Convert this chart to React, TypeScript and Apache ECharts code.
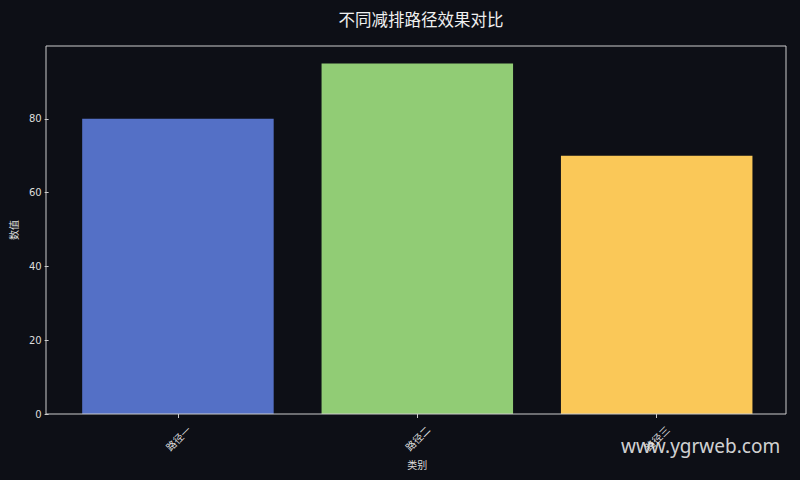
import { useEffect, useRef } from "react";
import * as echarts from "echarts";

const categories = ["路径一", "路径二", "路径三"];
const values = [80, 95, 70];
const barColors = ["#5470c6", "#91cc75", "#fac858"];
const yTicks = [0, 20, 40, 60, 80];

const FONT = "'Noto Sans CJK SC', 'DejaVu Sans', sans-serif";

export default function App() {
  const chartRef = useRef<HTMLDivElement | null>(null);

  useEffect(() => {
    document.body.style.margin = "0";
    if (!chartRef.current) return;
    const chart = echarts.init(chartRef.current, null, { renderer: "svg" });

    // plot frame (matplotlib style axes box)
    const left = 46;
    const right = 786;
    const top = 46;
    const bottom = 414;
    // category margin like matplotlib's 5% padding
    const unit = (right - left) / 3.08;
    const pad = (0.54 - 0.5) * unit;

    chart.setOption({
      animation: false,
      backgroundColor: "#0d0f16",
      title: {
        text: "不同减排路径效果对比",
        left: (left + right) / 2,
        top: 6,
        textAlign: "center",
        textStyle: {
          color: "#f0f0f0",
          fontSize: 16.5,
          fontWeight: "normal",
          fontFamily: FONT,
        },
      },
      grid: {
        left: left + pad,
        right: 800 - right + pad,
        top: top,
        bottom: 480 - bottom,
      },
      xAxis: {
        type: "category",
        data: categories,
        name: "类别",
        nameLocation: "middle",
        nameGap: 42,
        nameTextStyle: { color: "#dddddd", fontSize: 10, fontFamily: FONT },
        axisLine: { show: false },
        axisTick: {
          show: true,
          alignWithLabel: true,
          length: 4,
          lineStyle: { color: "#cccccc" },
        },
        axisLabel: {
          rotate: 45,
          align: "center",
          verticalAlign: "middle",
          color: "#dddddd",
          fontSize: 10,
          fontFamily: FONT,
          margin: 24,
        },
      },
      yAxis: {
        type: "value",
        min: 0,
        max: 99.75,
        interval: 20,
        offset: pad,
        name: "数值",
        nameLocation: "middle",
        nameGap: 28,
        nameRotate: 90,
        nameTextStyle: { color: "#dddddd", fontSize: 10, fontFamily: FONT },
        axisLine: { show: false },
        splitLine: { show: false },
        axisTick: {
          show: true,
          length: 4,
          customValues: yTicks,
          lineStyle: { color: "#cccccc" },
        },
        axisLabel: {
          customValues: yTicks,
          color: "#dddddd",
          fontSize: 10,
          fontFamily: "'DejaVu Sans', sans-serif",
          margin: 7,
        },
      },
      series: [
        {
          type: "bar",
          data: values.map((v, i) => ({
            value: v,
            itemStyle: { color: barColors[i] },
          })),
          barCategoryGap: "20%",
        },
      ],
      graphic: [
        {
          type: "rect",
          shape: { x: left, y: top, width: right - left, height: bottom - top },
          style: { fill: "none", stroke: "#cccccc", lineWidth: 1 },
          z: 10,
          silent: true,
        },
        {
          type: "text",
          left: 621,
          top: 436,
          style: {
            text: "www.ygrweb.com",
            fill: "rgba(235,235,235,0.9)",
            fontSize: 19,
            fontFamily: "'Noto Sans', 'Open Sans', sans-serif",
          },
          z: 20,
        },
      ],
    });

    return () => chart.dispose();
  }, []);

  return <div ref={chartRef} style={{ width: 800, height: 480 }} />;
}
